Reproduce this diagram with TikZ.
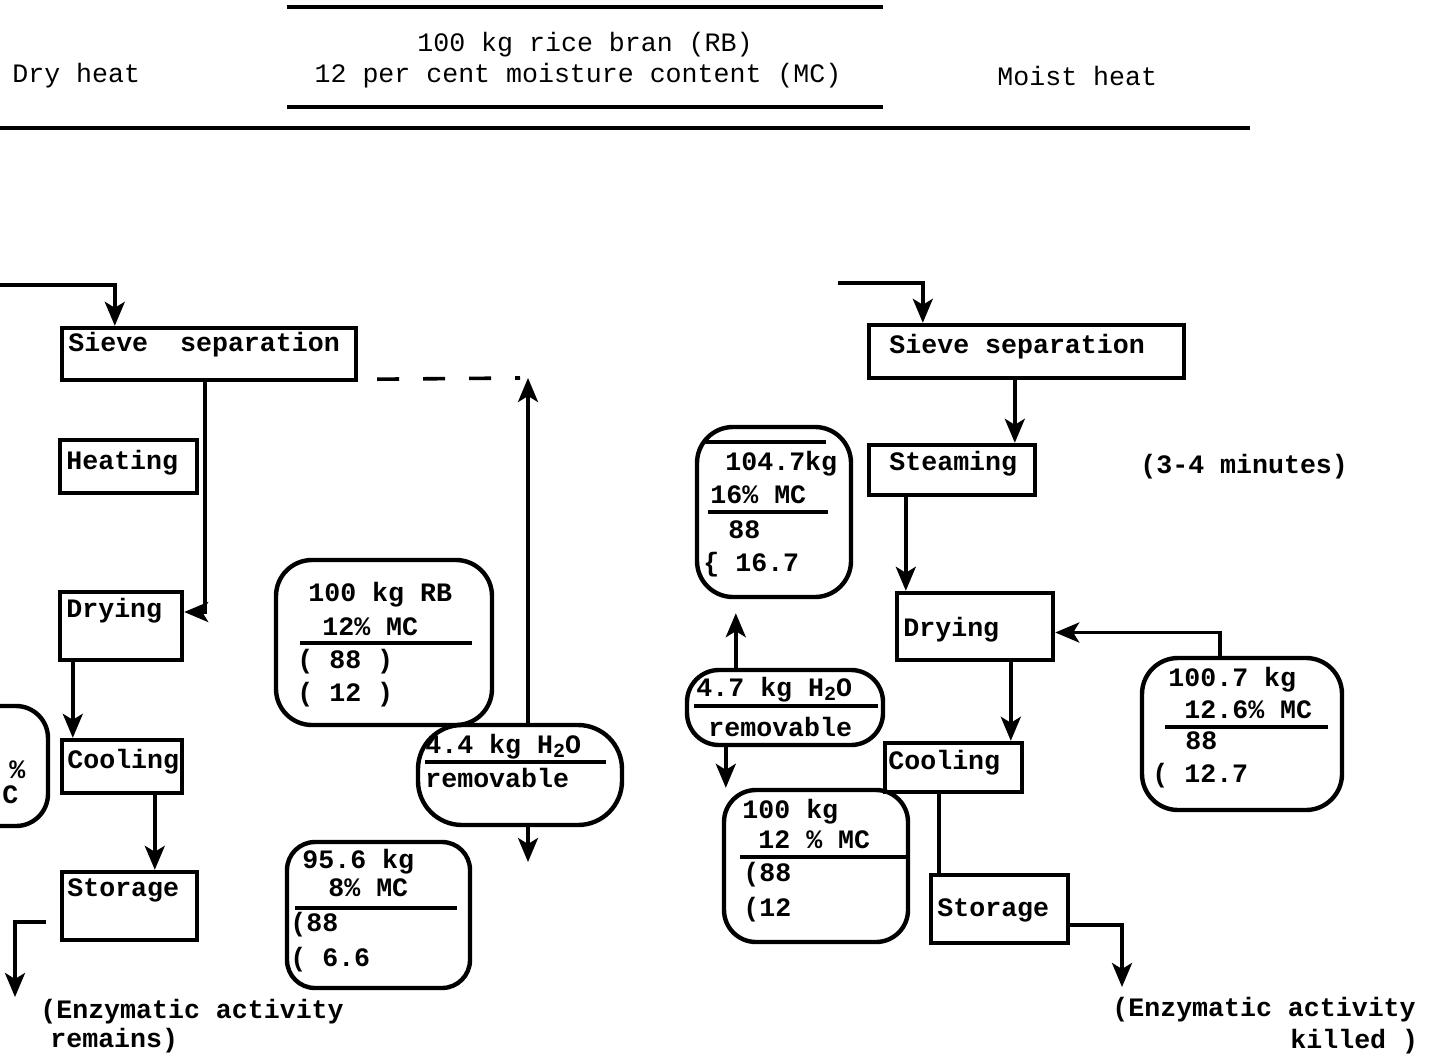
\documentclass[tikz,border=0pt]{standalone}
\usepackage{fontspec}
\newfontfamily\tw{Liberation Mono}
\usetikzlibrary{arrows.meta,calc}
\tikzset{
  procbox/.style={draw, line width=2.2pt, inner sep=0pt},
  rbox/.style={draw, line width=2.2pt, inner sep=0pt, rounded corners=14pt},
  arr/.style={line width=1.8pt, -{Stealth[length=12pt,width=10pt,inset=3pt]}},
  plain/.style={line width=1.8pt},
  divline/.style={line width=1.8pt},
  lbl/.style={font=\tw\bfseries\fontsize{13.3}{15}\selectfont, inner sep=0pt, anchor=west},
  hdr/.style={font=\tw\fontsize{13.3}{15}\selectfont, inner sep=0pt},
}
\begin{document}
\begin{tikzpicture}[x=0.5pt,y=-0.5pt]
\useasboundingbox (0,0) rectangle (1443,1059);
\begin{scope}
\clip (0,0) rectangle (1443,1059);
% ---------- header ----------
\draw[line width=2.2pt] (287,7) -- (883,7);
\draw[line width=2.2pt] (287,107) -- (883,107);
\draw[line width=2.4pt] (0,128) -- (1250,128);
\node[hdr] (h1) at (585,45) {100 kg rice bran (RB)};
\node[hdr] (h2) at (578,76) {12 per cent moisture content (MC)};
\node[hdr, anchor=west] (hdry) at (12,76) {Dry heat};
\node[hdr, anchor=west] (hmoist) at (997,76) {Moist heat};

% ---------- left column (dry heat) ----------
\node[procbox, minimum width=147pt, minimum height=26pt] (lsieve) at (209,354) {};
\node[lbl] (tlsieve) at (68,345) {Sieve\ \ separation};
\node[procbox, minimum width=68.5pt, minimum height=26.5pt] (lheat) at (128.5,466.5) {};
\node[lbl] (tlheat) at (66,463) {Heating};
\node[procbox, minimum width=61pt, minimum height=34pt] (ldry) at (121,626) {};
\node[lbl] (tldry) at (66,611) {Drying};
\node[procbox, minimum width=60pt, minimum height=26.5pt] (lcool) at (122,766.5) {};
\node[lbl] (tlcool) at (67,762) {Cooling};
\node[procbox, minimum width=67.5pt, minimum height=34pt] (lstor) at (129.5,906) {};
\node[lbl] (tlstor) at (67,890) {Storage};

\node[rbox, minimum width=108pt, minimum height=82.5pt, rounded corners=18pt] (lrb) at (384,642.5) {};
\node[lbl] (lrb1) at (308,595) {100 kg RB};
\node[lbl] (lrb2) at (322,627) {12\% MC};
\draw[divline] (300,643) -- (472,643);
\node[lbl] (lrb3) at (297,662) {( 88 )};
\node[lbl] (lrb4) at (297,695) {( 12 )};

\node[rbox, minimum width=102pt, minimum height=50pt, rounded corners=22pt] (lh2o) at (520,775) {};
\node[lbl] (lh1) at (425,747) {4.4 kg H\raisebox{-0.25ex}{\fontsize{10}{10}\selectfont 2}O};
\draw[divline] (425,762) -- (606,762);
\node[lbl] (lh2) at (425,778) {removable};

\node[rbox, minimum width=91.5pt, minimum height=73pt, rounded corners=14pt] (l956) at (378.5,915) {};
\node[lbl] (l9561) at (302,862) {95.6 kg};
\node[lbl] (l9562) at (328,888) {8\% MC};
\draw[divline] (295,908) -- (457,908);
\node[lbl] (l9563) at (290,925) {(88};
\node[lbl] (l9564) at (290,960) {( 6.6};

\node[rbox, minimum width=64pt, minimum height=60pt, rounded corners=16pt] (lpart) at (-16,766) {};
\node[lbl] (lp1) at (9,770) {\%};
\node[lbl] (lp2) at (2,795) {C};

\coordinate (lin) at (0,285);
\draw[arr] (lin) -| ($(lsieve.north west)+(55,0)$);
\draw[arr] ($(lsieve.south west)+(145,0)$) |- ($(ldry.east)+(0,-14)$);
\coordinate (dtop) at (528,378);
\coordinate (dbot) at (528,862);
\draw[line width=1.8pt, dash pattern=on 11pt off 12pt] ($(lsieve.south east)+(19,-3)$) -- ($(dtop)+(-8,0)$);
\draw[arr] ($(lh2o.north)+(8,0)$) -- (dtop);
\draw[arr] ($(lh2o.south)+(8,0)$) -- (dbot);
\draw[arr] ($(ldry.south west)+(15,0)$) coordinate (t1) -- (t1 |- lcool.north);
\draw[arr] ($(lcool.south west)+(95,0)$) coordinate (t2) -- (t2 |- lstor.north);
\coordinate (lout) at (15,997);
\draw[arr] ($(lstor.west)+(-14,16)$) -| (lout);
\node[lbl] (lnote1) at (40,1012) {(Enzymatic activity};
\node[lbl] (lnote2) at (50,1041) {remains)};

% ---------- right column (moist heat) ----------
\node[procbox, minimum width=157.5pt, minimum height=26.5pt] (rsieve) at (1026.5,351.5) {};
\node[lbl] (trsieve) at (889,347) {Sieve separation};
\node[procbox, minimum width=83pt, minimum height=25pt] (rsteam) at (952,470) {};
\node[lbl] (trsteam) at (889,464) {Steaming};
\node[procbox, minimum width=78pt, minimum height=33.5pt] (rdry) at (975,626.5) {};
\node[lbl] (trdry) at (903,630) {Drying};
\node[procbox, minimum width=68.5pt, minimum height=24.5pt] (rcool) at (953.5,767.5) {};
\node[lbl] (trcool) at (888,763) {Cooling};
\node[procbox, minimum width=68.5pt, minimum height=34pt] (rstor) at (999.5,909) {};
\node[lbl] (trstor) at (937,910) {Storage};
\node[lbl] (rmin) at (1140,467) {(3-4 minutes)};

\node[rbox, minimum width=77pt, minimum height=85pt, rounded corners=18pt] (r1047) at (774,512) {};
\draw[divline] (705,442) -- (826,442);
\node[lbl] (r10471) at (725,464) {104.7kg};
\node[lbl] (r10472) at (710,495) {16\% MC};
\draw[divline] (708,512) -- (828,512);
\node[lbl] (r10473) at (728,530) {88};
\node[lbl] (r10474) at (703,565) {\{ 16.7};

\node[rbox, minimum width=98pt, minimum height=37.5pt, rounded corners=16pt] (rh2o) at (785,707.5) {};
\node[lbl] (rh1) at (696,690) {4.7 kg H\raisebox{-0.25ex}{\fontsize{10}{10}\selectfont 2}O};
\draw[divline] (694,706) -- (878,706);
\node[lbl] (rh2) at (708,727) {removable};

\node[rbox, minimum width=92pt, minimum height=76pt, rounded corners=16pt] (r100) at (816,866) {};
\node[lbl] (r1001) at (742,812) {100 kg};
\node[lbl] (r1002) at (758,840) {12 \% MC};
\draw[divline] (740,857) -- (906,857);
\node[lbl] (r1003) at (743,875) {(88};
\node[lbl] (r1004) at (743,910) {(12};

\node[rbox, minimum width=100pt, minimum height=76pt, rounded corners=18pt] (r1007) at (1242,734) {};
\node[lbl] (r10071) at (1168,680) {100.7 kg};
\node[lbl] (r10072) at (1184,710) {12.6\% MC};
\draw[divline] (1165,727) -- (1328,727);
\node[lbl] (r10073) at (1185,741) {88};
\node[lbl] (r10074) at (1152,776) {( 12.7};

\coordinate (rin) at (838,283);
\draw[arr] (rin) -| ($(rsieve.north west)+(56,0)$);
\draw[arr] ($(rsieve.south west)+(148,0)$) coordinate (t3) -- (t3 |- rsteam.north);
\draw[arr] ($(rsteam.south west)+(39,0)$) coordinate (t4) -- (t4 |- rdry.north);
\draw[arr] ($(rdry.south west)+(116,0)$) coordinate (t5) -- (t5 |- rcool.north);
\draw[plain] ($(rcool.south west)+(56,0)$) coordinate (t6) -- (t6 |- rstor.north);
\draw[arr] ($(r1007.north west)+(80,0)$) |- ($(rdry.east)+(0,6)$);
\coordinate (rout) at (1122,987);
\draw[arr] ($(rstor.east)+(0,16)$) -| (rout);
\draw[arr] ($(rh2o.north west)+(51,0)$) coordinate (t7) -- ($(t7 |- r1047.south)+(0,14)$);
\draw[arr] ($(rh2o.south west)+(41,0)$) coordinate (t8) -- (t8 |- r100.north);
\node[lbl] (rnote1) at (1112,1010) {(Enzymatic activity};
\node[lbl] (rnote2) at (1290,1042) {killed )};
\end{scope}
\end{tikzpicture}
\end{document}
